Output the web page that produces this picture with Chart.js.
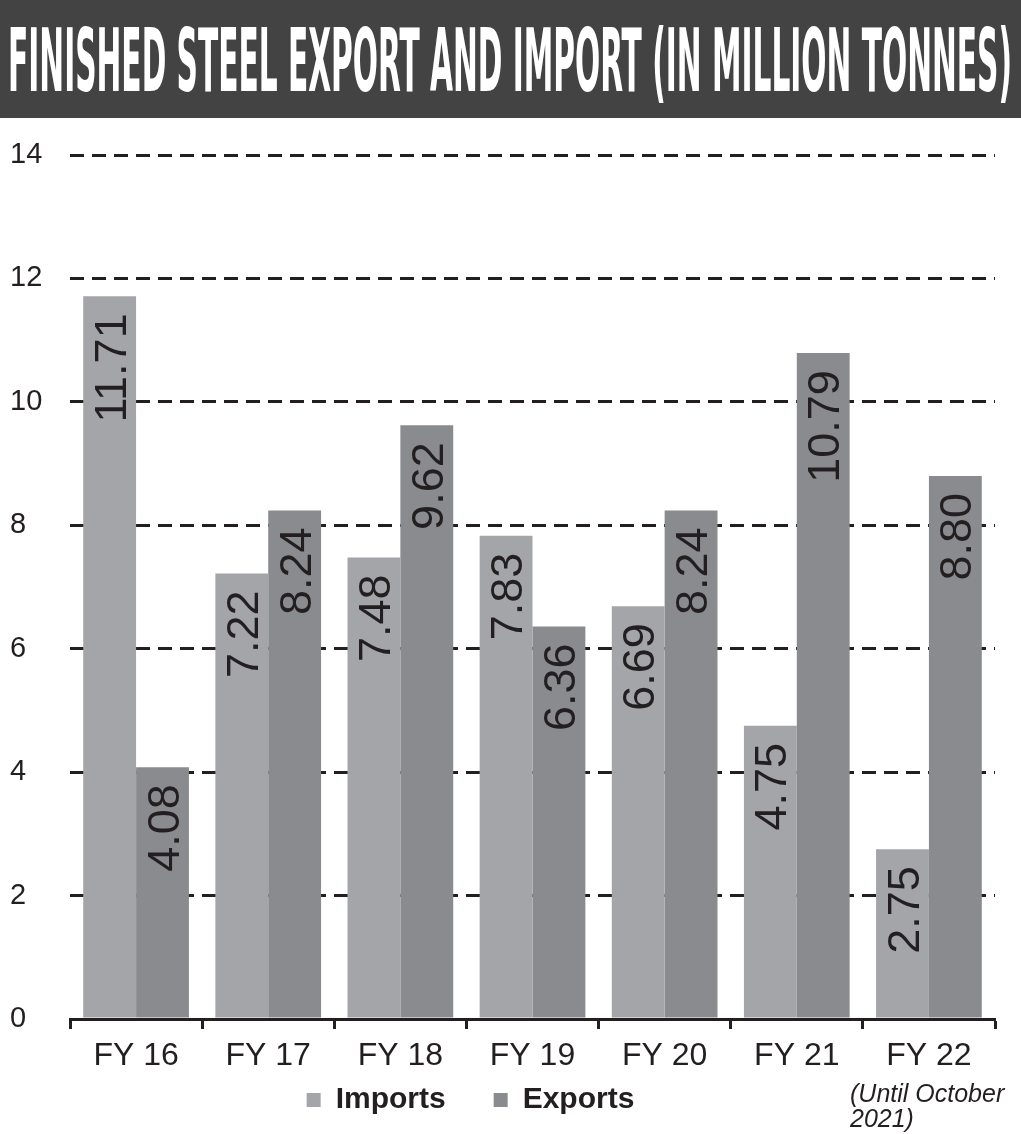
<!DOCTYPE html>
<html>
<head>
<meta charset="utf-8">
<title>Finished steel export and import</title>
<script src="https://cdn.jsdelivr.net/npm/chart.js@4.4.0/dist/chart.umd.min.js"></script>
<style>
  body { margin: 0; background: #fff; }
  #banner { position: relative; width: 1021px; height: 118px; background: #434343; overflow: hidden; }
  #title { position: absolute; left: 8px; top: 18px; color: #fff; white-space: nowrap;
           font: bold 87px/87px "Liberation Sans Narrow", "DejaVu Sans Condensed", sans-serif;
           transform-origin: 0 0; }
  #wrap { position: relative; width: 1021px; height: 1016px; }
  #note { position: absolute; left: 850px; top: 1081px; color: #231f20;
          font: italic 25px/25px "Liberation Sans", sans-serif; }
</style>
</head>
<body>
<div id="banner"><span id="title">FINISHED STEEL EXPORT AND IMPORT (IN MILLION TONNES)</span></div>
<div id="wrap"><canvas id="myChart"></canvas></div>
<div id="note">(Until October<br>2021)</div>
<script>
// data
var categories = ['FY 16', 'FY 17', 'FY 18', 'FY 19', 'FY 20', 'FY 21', 'FY 22'];
var importValues = [11.71, 7.22, 7.48, 7.83, 6.69, 4.75, 2.75];
var exportValues = [4.08, 8.24, 9.62, 6.36, 8.24, 10.79, 8.80];
var yTicks = [0, 2, 4, 6, 8, 10, 12, 14];

var ink = '#231f20';

// squeeze the title into the banner width
var title = document.getElementById('title');
title.style.transform = 'scaleX(' + (1004 / title.getBoundingClientRect().width) + ')';

// numbers written upwards inside the top of each bar
var valueLabels = {
    id: 'valueLabels',
    afterDatasetsDraw: function(chart) {
        var ctx = chart.ctx;
        ctx.save();
        ctx.font = '45px "Liberation Sans", sans-serif';
        ctx.fillStyle = ink;
        ctx.textAlign = 'right';
        ctx.textBaseline = 'alphabetic';
        chart.data.datasets.forEach(function(ds, i) {
            chart.getDatasetMeta(i).data.forEach(function(bar, j) {
                ctx.save();
                ctx.translate(bar.x, bar.y + 17);
                ctx.rotate(-Math.PI / 2);
                ctx.fillText(ds.data[j].toFixed(2), 0, 16);
                ctx.restore();
            });
        });
        ctx.restore();
    }
};

// legend sits just under the category labels, a little left of centre
var legendPlace = {
    id: 'legendPlace',
    afterLayout: function(chart) {
        var lg = chart.legend;
        var top = chart.chartArea.bottom + 66 - lg.options.labels.padding;
        lg.top = top;
        lg.bottom = chart.height;
        lg.height = lg.bottom - lg.top;
        lg.left -= 32;
        lg.right -= 32;
    }
};

var ctx = document.getElementById('myChart').getContext('2d');
var myChart = new Chart(ctx, {
    type: 'bar',
    data: {
        labels: categories,
        datasets: [{
            label: 'Imports',
            data: importValues,
            backgroundColor: '#a4a5a9'
        }, {
            label: 'Exports',
            data: exportValues,
            backgroundColor: '#8a8b8f'
        }]
    },
    options: {
        responsive: true,
        maintainAspectRatio: false,
        animation: false,
        categoryPercentage: 0.8,
        barPercentage: 1.0,
        layout: { padding: { left: 10, right: 26, top: 37, bottom: 0 } },
        scales: {
            x: {
                grid: { drawOnChartArea: false, drawTicks: true, tickLength: 10, tickWidth: 3, tickColor: ink, offset: true },
                border: { display: true, color: ink, width: 3 },
                ticks: { color: ink, padding: 8, font: { family: '"Liberation Sans Narrow", "Liberation Sans", sans-serif', size: 32 } },
                afterFit: function(scale) { scale.height = 70; }
            },
            y: {
                min: 0,
                max: 14,
                afterBuildTicks: function(scale) {
                    scale.ticks = yTicks.map(function(v) { return { value: v }; });
                },
                afterFit: function(scale) { scale.width = 60; },
                grid: {
                    drawTicks: false,
                    lineWidth: 3,
                    color: function(c) { return c.tick && c.tick.value === 0 ? 'rgba(0,0,0,0)' : ink; }
                },
                border: { display: false, dash: [14, 8] },
                ticks: { color: ink, crossAlign: 'far', padding: 10, font: { family: '"Liberation Sans", sans-serif', size: 29 } }
            }
        },
        plugins: {
            legend: {
                position: 'bottom',
                maxHeight: 45,
                labels: {
                    color: ink,
                    boxWidth: 14,
                    boxHeight: 14,
                    padding: 48,
                    font: { family: '"Liberation Sans", sans-serif', size: 30, weight: 'bold' }
                }
            },
            tooltip: { enabled: false }
        }
    },
    plugins: [valueLabels, legendPlace]
});
</script>
</body>
</html>
